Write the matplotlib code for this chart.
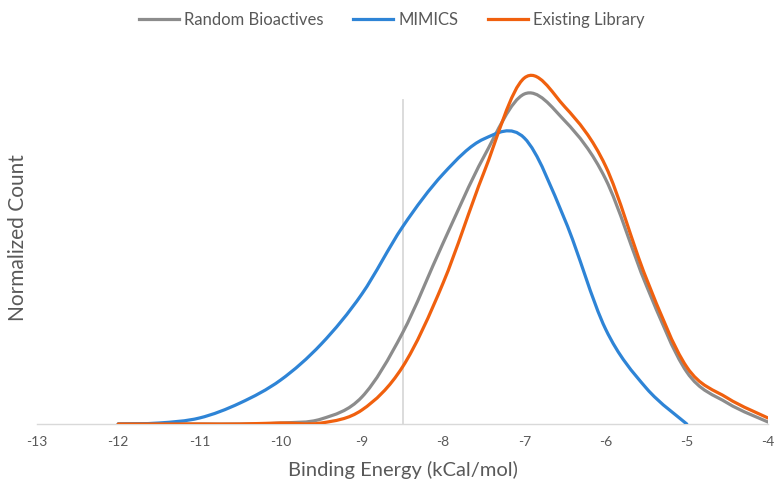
import numpy as np
import matplotlib
matplotlib.use("Agg")
import matplotlib.pyplot as plt
from matplotlib.path import Path
from matplotlib.patches import PathPatch
from matplotlib.lines import Line2D

# binding energy grid (kCal/mol)
energy = [-12, -11.5, -11, -10.5, -10, -9.5, -9, -8.5, -8, -7.5, -7,
          -6.5, -6, -5.5, -5, -4.5, -4]

# normalized counts (arbitrary units)
random_bioactives = [0, 0, 0, 0, 1, 5, 27, 91, 181, 267, 330,
                     303, 245, 139, 52, 21, 2]
mimics_energy = [-12, -11.5, -11, -10.5, -10, -9.5, -9, -8.5, -8, -7.5, -7,
                 -6.5, -6, -5.5, -5]
mimics = [0, 1, 6, 21, 44, 80, 130, 197, 250, 285, 286,
          204, 95, 36, 0]
existing_library = [0, 0, 0, 0, 1, 1, 14, 57, 141, 251, 346,
                    317, 258, 146, 57, 26, 6]

cutoff_x = -8.5
cutoff_top = 324

series = [
    ("Random Bioactives", energy, random_bioactives, "#8c8c8c"),
    ("MIMICS", mimics_energy, mimics, "#2e84d6"),
    ("Existing Library", energy, existing_library, "#f0600e"),
]

FONT = "Lato"
TEXT = "#595959"


def smooth_path(xs, ys):
    """Excel-style smoothed line: cubic Bezier segments through the points."""
    pts = np.column_stack([xs, ys]).astype(float)
    n = len(pts)
    verts = [pts[0]]
    codes = [Path.MOVETO]
    for i in range(n - 1):
        p0 = pts[i - 1] if i > 0 else pts[i]
        p1 = pts[i]
        p2 = pts[i + 1]
        p3 = pts[i + 2] if i + 2 < n else pts[i + 1]
        c1 = p1 + (p2 - p0) / 6.0
        c2 = p2 - (p3 - p1) / 6.0
        verts += [c1, c2, p2]
        codes += [Path.CURVE4] * 3
    return Path(verts, codes)


fig = plt.figure(figsize=(7.79, 4.91), dpi=100)
ax = fig.add_axes([37 / 779, 67 / 491, 731 / 779, 370 / 491])

ax.plot([cutoff_x, cutoff_x], [0, cutoff_top], color="#d9d9d9", lw=1.3, zorder=1)

handles = []
for label, xs, ys, color in series:
    patch = PathPatch(smooth_path(xs, ys), facecolor="none", edgecolor=color,
                      lw=2.3, capstyle="round", joinstyle="round", zorder=3)
    ax.add_patch(patch)
    handles.append(Line2D([], [], color=color, lw=2.3, label=label))

ax.set_xlim(-13, -4)
ax.set_ylim(0, 370)
ax.set_xticks(range(-13, -3))
ax.set_xticklabels([str(v) for v in range(-13, -3)], fontfamily=FONT,
                   fontsize=10, color=TEXT)
ax.set_yticks([])
ax.tick_params(axis="x", length=0, pad=9)
for side in ["top", "right", "left"]:
    ax.spines[side].set_visible(False)
ax.spines["bottom"].set_color("#d9d9d9")
ax.spines["bottom"].set_linewidth(1.0)

ax.set_xlabel("Binding Energy (kCal/mol)", fontfamily=FONT, fontsize=14.5,
              color=TEXT, labelpad=9)
fig.text(18 / 779, 1 - 238 / 491, "Normalized Count", rotation=90,
         ha="center", va="center", fontfamily=FONT, fontsize=15, color=TEXT)

fig.legend(handles=handles, loc="center", bbox_to_anchor=(392 / 779, 1 - 20 / 491),
           ncol=3, frameon=False, handlelength=2.4, handletextpad=0.3,
           columnspacing=1.8, prop={"family": FONT, "size": 12}, labelcolor=TEXT)

fig.savefig("out.png", dpi=100)
